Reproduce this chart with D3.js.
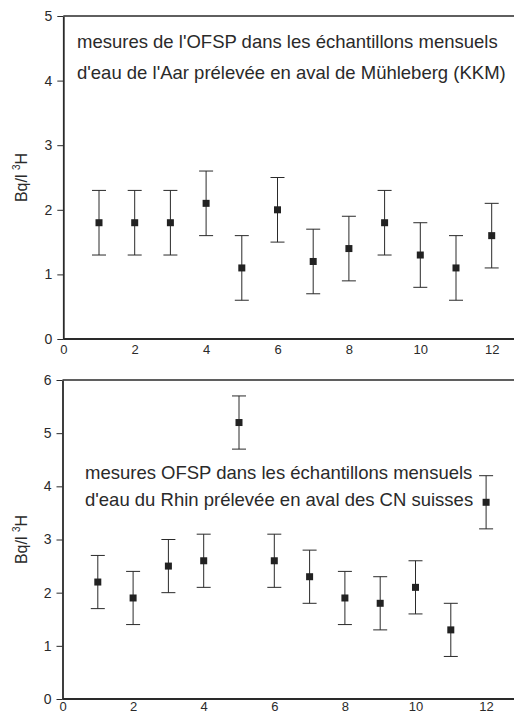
<!DOCTYPE html>
<html>
<head>
<meta charset="utf-8">
<script src="https://cdn.jsdelivr.net/npm/d3@7"></script>
<style>
  html, body { margin: 0; padding: 0; background: #fff; }
  svg { display: block; font-family: "Liberation Sans", Arial, sans-serif; }
</style>
</head>
<body>
<script>
let width = 514;
let height = 713;

// month index, tritium activity (Bq/l) and uncertainty
const months = [1, 2, 3, 4, 5, 6, 7, 8, 9, 10, 11, 12];
const aarValues = [1.8, 1.8, 1.8, 2.1, 1.1, 2.0, 1.2, 1.4, 1.8, 1.3, 1.1, 1.6];
const aarErrors = [0.5, 0.5, 0.5, 0.5, 0.5, 0.5, 0.5, 0.5, 0.5, 0.5, 0.5, 0.5];
const rhinValues = [2.2, 1.9, 2.5, 2.6, 5.2, 2.6, 2.3, 1.9, 1.8, 2.1, 1.3, 3.7];
const rhinErrors = [0.5, 0.5, 0.5, 0.5, 0.5, 0.5, 0.5, 0.5, 0.5, 0.5, 0.5, 0.5];
const xTicks = [0, 2, 4, 6, 8, 10, 12];
const aarYTicks = [0, 1, 2, 3, 4, 5];
const rhinYTicks = [0, 1, 2, 3, 4, 5, 6];
const aarLabel = ["mesures de l'OFSP dans les échantillons mensuels",
                  "d'eau de l'Aar prélevée en aval de Mühleberg (KKM)"];
const rhinLabel = ["mesures OFSP dans les échantillons mensuels",
                   "d'eau du Rhin prélevée en aval des CN suisses"];

let svg = d3.select("body").append("svg")
                           .attr("width", width)
                           .attr("height", height);

let ink = "#2a2a2a";


function drawPanel(opt) {
  let x = d3.scaleLinear().domain([0, 13]).range([opt.left, opt.left + 13 * opt.unit]);
  let y = d3.scaleLinear().domain([0, opt.ymax]).range([opt.bottom, opt.top]);
  let g = svg.append("g");

  // frame top line
  g.append("line")
   .attr("x1", x(0)).attr("x2", width)
   .attr("y1", y(opt.ymax)).attr("y2", y(opt.ymax))
   .attr("stroke", ink).attr("stroke-width", 1.6);

  let yAxis = g.append("g")
               .attr("transform", "translate(" + x(0) + ",0)")
               .call(d3.axisLeft(y).tickValues(opt.yTicks).tickFormat(d3.format("d"))
                       .tickSize(6).tickSizeOuter(0).tickPadding(5));
  yAxis.select(".domain").attr("stroke", ink).attr("stroke-width", 1.8);
  yAxis.selectAll(".tick line").attr("stroke", ink);
  yAxis.selectAll("text").attr("font-size", 14).attr("fill", ink)
       .attr("font-family", "'Liberation Sans', Arial, sans-serif");

  let xAxis = g.append("g")
               .attr("transform", "translate(0," + y(0) + ")")
               .call(d3.axisBottom(x).tickValues(xTicks).tickFormat(d3.format("d"))
                       .tickSize(0).tickSizeOuter(0).tickPadding(opt.xPad));
  xAxis.select(".domain").attr("stroke", ink).attr("stroke-width", 1.8)
       .attr("d", "M" + x(0) + ",0H" + width);
  xAxis.selectAll("text").attr("font-size", 13).attr("fill", ink)
       .attr("font-family", "'Liberation Sans', Arial, sans-serif");

  // y label  Bq/l ³H
  let lab = g.append("text")
             .attr("transform", "translate(27," + ((opt.top + opt.bottom) / 2) + ") rotate(-90)")
             .attr("text-anchor", "middle")
             .attr("font-size", 16)
             .attr("fill", ink);
  lab.append("tspan").text("Bq/l ");
  lab.append("tspan").attr("font-size", 10).attr("dy", -7).text("3");
  lab.append("tspan").attr("dy", 7).text("H");

  // annotation
  g.selectAll(".note")
   .data(opt.note)
   .enter().append("text")
   .attr("x", opt.noteX)
   .attr("y", function(d, i) { return opt.noteY + i * opt.noteGap; })
   .attr("font-size", 18.5)
   .attr("fill", ink)
   .text(function(d) { return d; });

  let pts = months.map(function(m, i) {
    return {m: m, v: opt.values[i], e: opt.errors[i]};
  });

  let bars = g.selectAll(".bar").data(pts).enter().append("g");
  bars.append("line")
      .attr("x1", function(d) { return x(d.m); })
      .attr("x2", function(d) { return x(d.m); })
      .attr("y1", function(d) { return y(d.v - d.e); })
      .attr("y2", function(d) { return y(d.v + d.e); })
      .attr("stroke", ink).attr("stroke-width", 1);
  [-1, 1].forEach(function(s) {
    bars.append("line")
        .attr("x1", function(d) { return x(d.m) - 7; })
        .attr("x2", function(d) { return x(d.m) + 7; })
        .attr("y1", function(d) { return y(d.v + s * d.e); })
        .attr("y2", function(d) { return y(d.v + s * d.e); })
        .attr("stroke", ink).attr("stroke-width", 1);
  });
  bars.append("rect")
      .attr("x", function(d) { return x(d.m) - 3.5; })
      .attr("y", function(d) { return y(d.v) - 3.5; })
      .attr("width", 7).attr("height", 7)
      .attr("fill", "#222");
}


drawPanel({
  left: 63.3, unit: 35.7, top: 16, bottom: 339, ymax: 5, xPad: 6,
  yTicks: aarYTicks, values: aarValues, errors: aarErrors,
  note: aarLabel, noteX: 77, noteY: 48, noteGap: 31
});

drawPanel({
  left: 62.5, unit: 35.3, top: 380, bottom: 699, ymax: 6, xPad: 3,
  yTicks: rhinYTicks, values: rhinValues, errors: rhinErrors,
  note: rhinLabel, noteX: 85, noteY: 479, noteGap: 27
});
</script>
</body>
</html>
